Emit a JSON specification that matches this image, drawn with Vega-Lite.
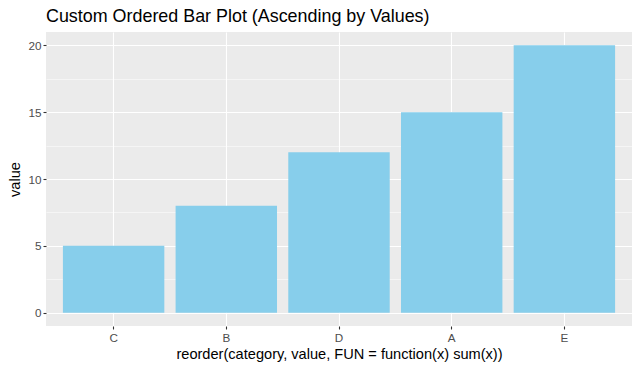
{
  "$schema": "https://vega.github.io/schema/vega-lite/v6.json",
  "width": 586,
  "height": 294,
  "autosize": {"type": "none"},
  "padding": {"left": 46, "top": 32, "right": 8, "bottom": 45},
  "background": "white",
  "title": {
    "text": "Custom Ordered Bar Plot (Ascending by Values)",
    "anchor": "start",
    "frame": "group",
    "font": "Liberation Sans",
    "fontSize": 17.9,
    "fontWeight": "normal",
    "color": "black",
    "offset": 6
  },
  "data": {
    "values": [
      {"category": "A", "value": 15},
      {"category": "B", "value": 8},
      {"category": "C", "value": 5},
      {"category": "D", "value": 12},
      {"category": "E", "value": 20}
    ]
  },
  "config": {
    "view": {"fill": "#EBEBEB", "stroke": null},
    "font": "Liberation Sans"
  },
  "mark": {"type": "bar", "color": "#87CEEB"},
  "encoding": {
    "x": {
      "field": "category",
      "type": "nominal",
      "sort": {"field": "value", "op": "sum", "order": "ascending"},
      "scale": {"paddingInner": 0.1, "paddingOuter": 0.15},
      "axis": {
        "title": "reorder(category, value, FUN = function(x) sum(x))",
        "titleFont": "Liberation Sans",
        "titleFontSize": 14.6,
        "titleFontWeight": "normal",
        "titleColor": "black",
        "titlePadding": 3,
        "labelAngle": 0,
        "labelFontSize": 11.7,
        "labelColor": "#4D4D4D",
        "labelPadding": 3,
        "tickColor": "#333333",
        "tickSize": 3,
        "tickWidth": 1.1,
        "domain": false,
        "grid": true,
        "gridColor": "white",
        "gridWidth": 1.1,
        "bandPosition": 0.5
      }
    },
    "y": {
      "field": "value",
      "type": "quantitative",
      "scale": {"domain": [-1, 21], "nice": false, "zero": false},
      "axis": {
        "title": "value",
        "titleFont": "Liberation Sans",
        "titleFontSize": 14.6,
        "titleFontWeight": "normal",
        "titleColor": "black",
        "titlePadding": 5,
        "values": [0, 2.5, 5, 7.5, 10, 12.5, 15, 17.5, 20],
        "labelExpr": "datum.value % 5 === 0 ? datum.label : ''",
        "labelFontSize": 11.7,
        "labelColor": "#4D4D4D",
        "labelPadding": 2,
        "tickColor": "#333333",
        "tickSize": 3,
        "tickWidth": 1.1,
        "tickOpacity": {"condition": {"test": "datum.value % 5 === 0", "value": 1}, "value": 0},
        "domain": false,
        "grid": true,
        "gridColor": "white",
        "gridWidth": {"condition": {"test": "datum.value % 5 === 0", "value": 1.1}, "value": 0.5}
      }
    }
  }
}
